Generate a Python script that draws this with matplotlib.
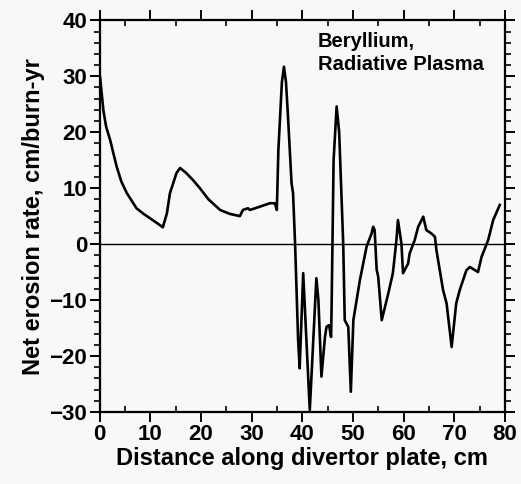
import matplotlib
matplotlib.use("Agg")
import matplotlib.pyplot as plt
from matplotlib.ticker import MultipleLocator

# net erosion profile
dist = [0.0, 0.1, 0.75, 1.3, 2.1, 2.8, 3.4, 4.3, 5.4, 7.3, 8.7, 10.0, 11.9, 12.5, 13.3,
        13.9, 15.2, 15.9, 17.0, 18.5, 19.8, 21.5, 23.8, 25.7, 27.7, 28.3, 29.3, 29.7,
        31.7, 33.6, 34.6, 35.0, 35.3, 36.0, 36.4, 36.8, 37.2, 37.9, 38.2, 38.6, 39.2,
        39.5, 40.2, 41.5, 42.8, 43.2, 43.8, 44.5, 44.8, 45.3, 45.7, 45.8, 46.2, 46.8,
        47.3, 48.1, 48.4, 49.1, 49.6, 50.1, 51.4, 52.7, 53.7, 54.0, 54.3, 54.7,
        55.0, 55.7, 57.0, 57.9, 58.6, 58.9, 59.6, 59.9, 60.9, 61.2, 62.2, 62.9,
        63.9, 64.5, 65.5, 66.2, 66.5, 67.8, 68.5, 69.5, 70.4, 71.1, 72.4, 73.1,
        74.7, 75.4, 76.7, 77.7, 79.0]
rate = [25.0, 30.0, 24.0, 21.0, 18.6, 16.0, 13.8, 11.2, 9.1, 6.4, 5.4, 4.6, 3.4, 3.0, 5.5,
        9.1, 12.7, 13.6, 12.8, 11.4, 10.0, 8.0, 6.1, 5.4, 5.0, 6.1, 6.4, 6.1,
        6.7, 7.3, 7.3, 6.1, 16.8, 29.0, 31.7, 29.0, 22.8, 10.9, 9.1, 0.0, -17.2,
        -22.2, -5.2, -29.7, -6.1, -10.0, -23.7, -16.6, -14.8, -14.5, -16.6, -11.8, 15.0, 24.6,
        20.0, 0.0, -13.6, -14.8, -26.4, -13.6, -6.4, -0.5, 1.9, 3.1, 2.5, -4.6,
        -5.8, -13.6, -8.8, -5.2, 0.7, 4.3, 0.0, -5.2, -3.5, -1.7, 0.7, 3.1,
        4.9, 2.5, 1.9, 1.3, -1.1, -8.2, -10.6, -18.4, -10.6, -8.2, -4.7, -4.1,
        -5.0, -2.3, 0.7, 4.3, 7.0]

xticks = [0, 10, 20, 30, 40, 50, 60, 70, 80]
yticks = [-30, -20, -10, 0, 10, 20, 30, 40]

plt.rcParams['font.family'] = ['Liberation Sans', 'DejaVu Sans']
plt.rcParams['font.weight'] = 'bold'

bg = '#f7f8f8'
fig = plt.figure(figsize=(5.21, 4.84), dpi=100, facecolor=bg)
ax = fig.add_axes([0.191, 0.149, 0.778, 0.809], facecolor=bg)

ax.plot(dist, rate, color='black', lw=1.9, solid_joinstyle='round')
ax.axhline(0, color='black', lw=1.0)

ax.set_xlim(0, 80)
ax.set_ylim(-30, 40)
ax.set_xticks(xticks)
ax.set_yticks(yticks)
ax.xaxis.set_minor_locator(MultipleLocator(5))
ax.yaxis.set_minor_locator(MultipleLocator(2))

for s in ax.spines.values():
    s.set_linewidth(1.6)

ax.tick_params(which='major', direction='out', length=7, width=1.4,
               top=True, right=True, labelsize=16, pad=2)
ax.tick_params(which='minor', direction='out', length=4, width=1.2,
               top=True, right=True)
ax.tick_params(axis='x', which='minor', bottom=True, direction='in')

ax.set_xlabel('Distance along divertor plate, cm', fontsize=17, fontweight='bold', labelpad=1)
ax.set_ylabel('Net erosion rate, cm/burn-yr', fontsize=17, fontweight='bold', labelpad=3)

ax.text(43.1, 38.0, 'Beryllium,\nRadiative Plasma', fontsize=14.5, fontweight='bold',
        va='top', ha='left', linespacing=1.3)

fig.savefig('out.png', dpi=100, facecolor=bg)
